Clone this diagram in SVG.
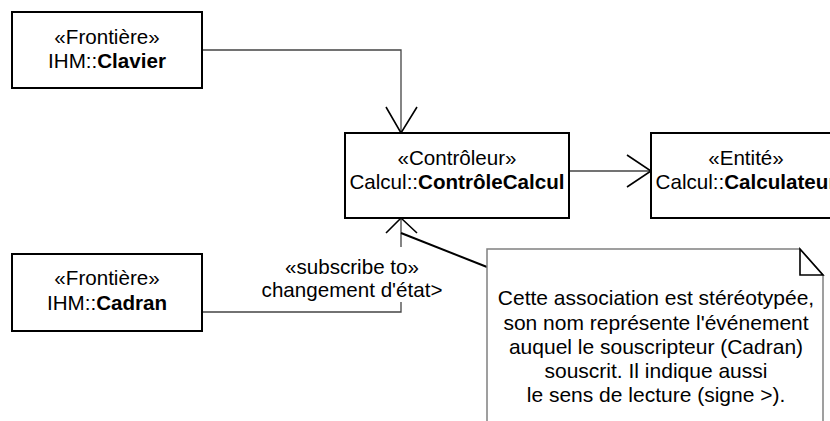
<svg xmlns="http://www.w3.org/2000/svg" width="830" height="421" viewBox="0 0 830 421">
  <style>
    .box { fill: #ffffff; stroke: #000000; stroke-width: 2; }
    .txt { font-family: "Liberation Sans", Arial, sans-serif; font-size: 20.6px; fill: #000000; text-anchor: middle; }
    .ntxt { font-size: 21px; }
    .b { font-weight: bold; }
    .conn { fill: none; stroke: #444444; stroke-width: 1.3; }
    .head { fill: none; stroke: #000000; stroke-width: 1.6; }
    .note { fill: #ffffff; stroke: #808080; stroke-width: 1.5; }
    .fold { fill: none; stroke: #000000; stroke-width: 1.6; }
    .anchor { fill: none; stroke: #000000; stroke-width: 2; }
  </style>
  <rect width="830" height="421" fill="#ffffff"/>

  <!-- connectors -->
  <g id="connectors">
    <!-- Clavier -> ContrôleCalcul -->
    <path class="conn" d="M202,50 H401 V133"/>
    <path class="head" d="M386,107 L401,133 L417,107"/>
    <!-- ContrôleCalcul -> Calculateur -->
    <path class="conn" d="M569,171 H651"/>
    <path class="head" d="M627,155 L651,171 L627,187"/>
    <!-- Cadran -> ContrôleCalcul (subscribe to) -->
    <path class="conn" d="M202,312 H401 V218"/>
    <path class="head" d="M386,233 L401,218 L417,233"/>
    <rect x="256" y="247" width="191" height="55" fill="#ffffff"/>
    <text class="txt" x="352" y="274">«subscribe to»</text>
    <text class="txt" x="352" y="297">changement d'état&gt;</text>
    <!-- note anchor -->
    <path class="anchor" d="M401,233 L487,267"/>
  </g>

  <g id="clavier">
    <rect class="box" x="12" y="12" width="190" height="76"/>
    <text class="txt" x="107" y="44">«Frontière»</text>
    <text class="txt" x="107" y="68">IHM::<tspan class="b">Clavier</tspan></text>
  </g>

  <g id="controleCalcul">
    <rect class="box" x="345" y="133" width="224" height="85"/>
    <text class="txt" x="457" y="165">«Contrôleur»</text>
    <text class="txt" x="457" y="189">Calcul::<tspan class="b">ContrôleCalcul</tspan></text>
  </g>

  <g id="calculateur">
    <rect class="box" x="651" y="133" width="195" height="85"/>
    <text class="txt" x="746" y="165">«Entité»</text>
    <text class="txt" x="746" y="189">Calcul::<tspan class="b">Calculateur</tspan></text>
  </g>

  <g id="cadran">
    <rect class="box" x="12" y="254" width="190" height="77"/>
    <text class="txt" x="107" y="285">«Frontière»</text>
    <text class="txt" x="107" y="310">IHM::<tspan class="b">Cadran</tspan></text>
  </g>

  <g id="note">
    <path class="note" d="M487,430 V249 H800 L823,275 V430"/>
    <path class="fold" d="M800,249 V275 H823 Z"/>
    <text class="txt ntxt" x="656" y="305">Cette association est stéréotypée,</text>
    <text class="txt ntxt" x="656" y="330">son nom représente l'événement</text>
    <text class="txt ntxt" x="656" y="354">auquel le souscripteur (Cadran)</text>
    <text class="txt ntxt" x="656" y="378">souscrit. Il indique aussi</text>
    <text class="txt ntxt" x="656" y="402">le sens de lecture (signe &gt;).</text>
  </g>
</svg>
